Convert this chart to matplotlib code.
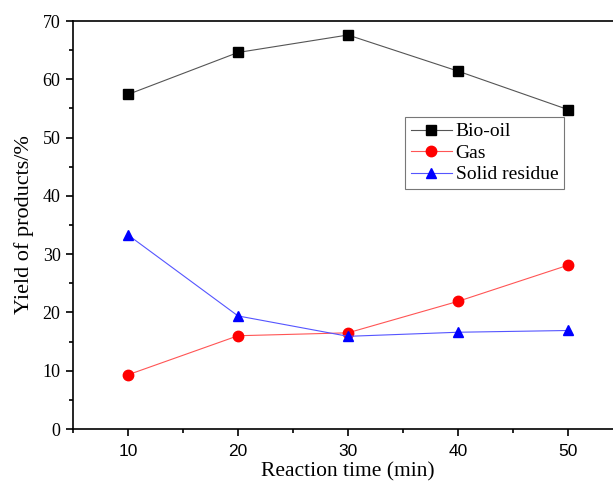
import matplotlib as mpl
mpl.use('Agg')
import matplotlib.pyplot as plt
from matplotlib.ticker import MultipleLocator

# data
time = [10, 20, 30, 40, 50]
bio_oil = [57.4, 64.6, 67.6, 61.4, 54.8]
gas = [9.3, 16.0, 16.5, 21.9, 28.1]
solid = [33.3, 19.4, 15.9, 16.6, 16.9]

fig = plt.figure(figsize=(6.13, 4.84), dpi=100)
ax = fig.add_axes([73/613, 55/484, 550/613, 408/484])

ax.plot(time, bio_oil, color='#555555', lw=0.8, marker='s', ms=6.5, mfc='black', mec='black', label='Bio-oil')
ax.plot(time, gas, color='#ff5555', lw=0.8, marker='o', ms=7.5, mfc='red', mec='red', label='Gas')
ax.plot(time, solid, color='#5555ff', lw=0.8, marker='^', ms=7.5, mfc='blue', mec='blue', label='Solid residue')

ax.set_xlim(5, 55)
ax.set_ylim(0, 70)
ax.xaxis.set_major_locator(MultipleLocator(10))
ax.xaxis.set_minor_locator(MultipleLocator(5))
ax.yaxis.set_major_locator(MultipleLocator(10))
ax.yaxis.set_minor_locator(MultipleLocator(5))
ax.tick_params(which='major', direction='out', length=5, width=1.2, pad=4)
ax.tick_params(which='minor', direction='out', length=3, width=1.2)
ax.tick_params(axis='x', which='major', pad=6)
ax.spines['right'].set_visible(False)
for s in ['left', 'bottom', 'top']:
    ax.spines[s].set_linewidth(1.2)

for lab in ax.get_xticklabels():
    lab.set_family('Liberation Sans')
    lab.set_fontsize(12.5)
for lab in ax.get_yticklabels():
    lab.set_family('Liberation Serif')
    lab.set_fontsize(13)

ax.set_xlabel('Reaction time (min)', family='Liberation Serif', fontsize=15.5, labelpad=2)
ax.set_ylabel('Yield of products/%', family='Liberation Serif', fontsize=16, labelpad=6)

leg = ax.legend(loc='upper left', bbox_to_anchor=(405/613, 1 - 117/484), bbox_transform=fig.transFigure,
                prop={'family': 'Liberation Serif', 'size': 14}, fancybox=False, framealpha=1,
                handlelength=2.1, borderpad=0.3, labelspacing=0.2, handletextpad=0.2, borderaxespad=0)
leg.get_frame().set_edgecolor('#777777')
leg.get_frame().set_linewidth(0.8)

fig.savefig('out.png', dpi=100)
